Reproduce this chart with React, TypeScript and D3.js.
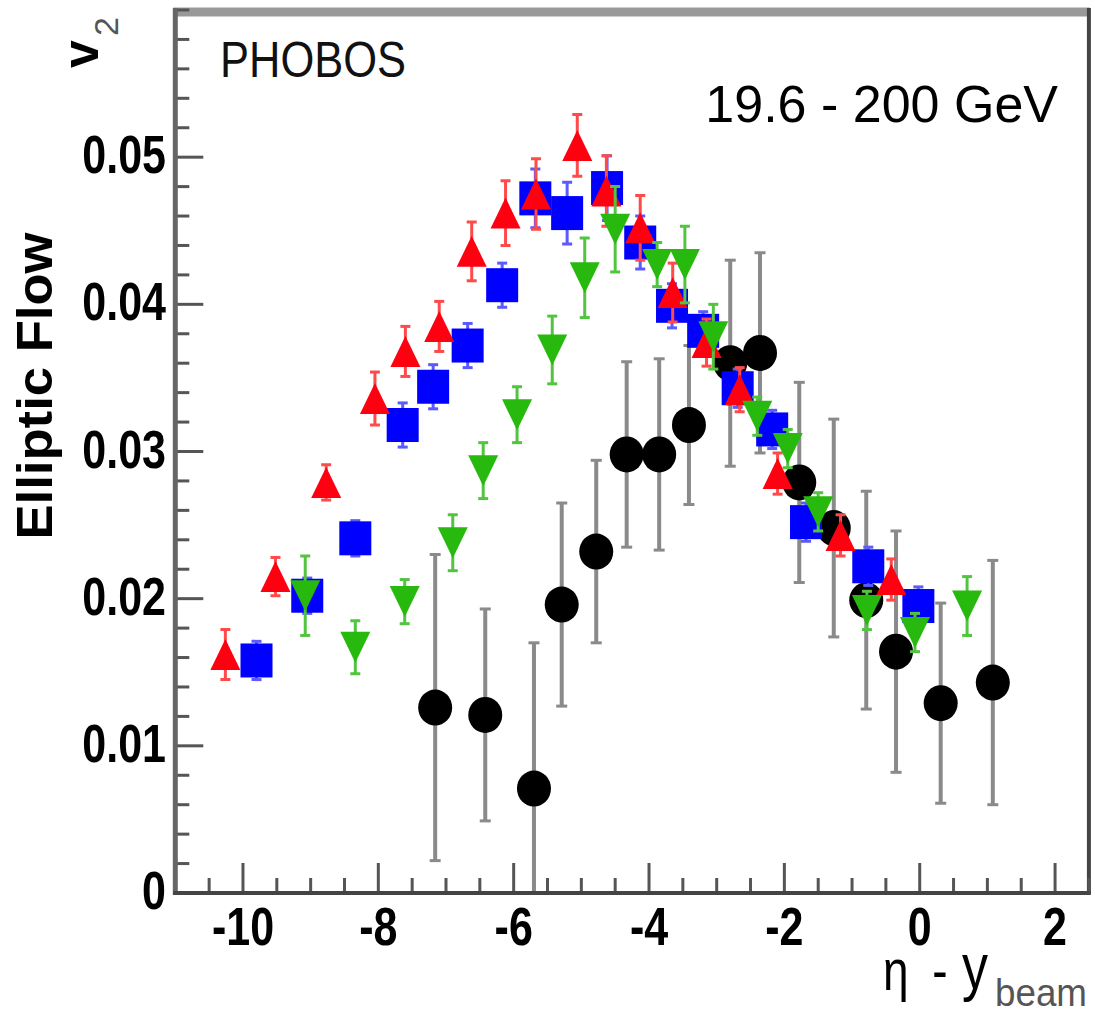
import React from "react";
import * as d3 from "d3";

// ---- data ----
const blackX = [-7.16, -6.42, -5.70, -5.29, -4.78, -4.33, -3.85, -3.41, -2.80, -2.36, -1.78, -1.27, -0.79, -0.35, 0.31, 1.08];
const blackY = [0.0126, 0.0121, 0.0071, 0.0196, 0.0232, 0.0298, 0.0298, 0.0318, 0.0360, 0.0367, 0.0279, 0.0248, 0.0199, 0.0164, 0.0129, 0.0143];
const blackErr = [0.0104, 0.0072, 0.0099, 0.0069, 0.0062, 0.0063, 0.0065, 0.0054, 0.0070, 0.0068, 0.0068, 0.0074, 0.0074, 0.0082, 0.0068, 0.0083];

const blueX = [-9.80, -9.05, -8.34, -7.64, -7.19, -6.68, -6.17, -5.68, -5.21, -4.62, -4.13, -3.66, -3.20, -2.69, -2.18, -1.68, -0.76, -0.02];
const blueY = [0.0158, 0.0202, 0.0241, 0.0318, 0.0344, 0.0372, 0.0413, 0.0472, 0.0462, 0.0479, 0.0442, 0.0399, 0.0382, 0.0343, 0.0315, 0.0252, 0.0222, 0.0195];
const blueErr = [0.0013, 0.0012, 0.0012, 0.0015, 0.0015, 0.0015, 0.0015, 0.0020, 0.0021, 0.0022, 0.0018, 0.0015, 0.0013, 0.0013, 0.0013, 0.0013, 0.0013, 0.0013];

const redX = [-10.26, -9.52, -8.77, -8.05, -7.60, -7.10, -6.62, -6.12, -5.67, -5.06, -4.63, -4.13, -3.65, -3.15, -2.66, -2.10, -1.17, -0.42];
const redY = [0.0162, 0.0215, 0.0279, 0.0336, 0.0368, 0.0385, 0.0436, 0.0462, 0.0475, 0.0508, 0.0477, 0.0452, 0.0408, 0.0374, 0.0342, 0.0285, 0.0243, 0.0213];
const redErr = [0.0017, 0.0013, 0.0012, 0.0018, 0.0017, 0.0017, 0.0020, 0.0022, 0.0024, 0.0021, 0.0024, 0.0022, 0.0020, 0.0016, 0.0015, 0.0014, 0.0014, 0.0014];

const greenX = [-9.08, -8.34, -7.61, -6.90, -6.45, -5.95, -5.43, -4.95, -4.50, -3.88, -3.47, -3.05, -2.40, -1.95, -1.50, -0.78, -0.07, 0.70];
const greenY = [0.0202, 0.0167, 0.0198, 0.0238, 0.0287, 0.0325, 0.0369, 0.0418, 0.0451, 0.0427, 0.0427, 0.0378, 0.0324, 0.0302, 0.0259, 0.0192, 0.0177, 0.0195];
const greenErr = [0.0027, 0.0018, 0.0015, 0.0019, 0.0019, 0.0019, 0.0023, 0.0027, 0.0029, 0.0015, 0.0026, 0.0022, 0.0013, 0.0013, 0.0013, 0.0013, 0.0013, 0.0020];

const xTickValues = [-10, -8, -6, -4, -2, 0, 2];
const yTickValues = [0, 0.01, 0.02, 0.03, 0.04, 0.05];
const xDomain = [-11, 2.5];
const yDomain = [0, 0.06];

const W = 1095;
const H = 1017;
const L = 175.3;
const R = 1088.9;
const T = 10;
const B = 893;

const x = d3.scaleLinear().domain(xDomain).range([L, R]);
const y = d3.scaleLinear().domain(yDomain).range([B, T]);

const FONT = "'Liberation Sans', Arial, Helvetica, sans-serif";
const SY = 1.25;

function ErrBars({ xs, ys, es, color, width, cap }) {
  return (
    <g>
      {xs.map((xv, i) => {
        const px = x(xv);
        const y1 = y(ys[i] + es[i]);
        const y2 = y(ys[i] - es[i]);
        return (
          <g key={i}>
            <line x1={px} x2={px} y1={y1} y2={y2} stroke={color} strokeWidth={width} />
            <line x1={px - cap / 2} x2={px + cap / 2} y1={y1} y2={y1} stroke={color} strokeWidth={3} />
            <line x1={px - cap / 2} x2={px + cap / 2} y1={y2} y2={y2} stroke={color} strokeWidth={3} />
          </g>
        );
      })}
    </g>
  );
}

export default function App() {
  const xMinor = d3.range(-11, 2.5001, 0.5);
  const yMinor = d3.range(0, 0.06001, 0.002);
  const triUp = (cx, cy) => {
    const w = 15, h = 15.5;
    return `M${cx - w},${cy + h}L${cx + w},${cy + h}L${cx},${cy - h}Z`;
  };
  const triDown = (cx, cy) => {
    const w = 15, h = 15.5;
    return `M${cx - w},${cy - h}L${cx + w},${cy - h}L${cx},${cy + h}Z`;
  };

  return (
    <svg width={W} height={H} style={{ position: "absolute", left: 0, top: 0, background: "#fff" }}>
      <defs>
        <clipPath id="plotclip">
          <rect x={L} y={T} width={R - L} height={B - T} />
        </clipPath>
      </defs>
      <rect x={0} y={0} width={W} height={H} fill="#fff" />

      {/* frame */}
      <line x1={L - 2} x2={R + 1} y1={12} y2={12} stroke="#999" strokeWidth={9} />
      <line x1={R} x2={R} y1={8} y2={B} stroke="#444" strokeWidth={4} />

      {/* ticks */}
      <g stroke="#555" strokeWidth={3}>
        {xMinor.map((v, i) => {
          const major = xTickValues.some((t) => Math.abs(t - v) < 1e-6);
          return <line key={"xm" + i} x1={x(v)} x2={x(v)} y1={B} y2={B - (major ? 30 : 15)} />;
        })}
        {yMinor.map((v, i) => {
          const major = yTickValues.some((t) => Math.abs(t - v) < 1e-6);
          return <line key={"ym" + i} x1={L} x2={L + (major ? 28 : 14)} y1={y(v)} y2={y(v)} />;
        })}
      </g>

      {/* data */}
      <g clipPath="url(#plotclip)">
        <ErrBars xs={blackX} ys={blackY} es={blackErr} color="#8a8a8a" width={4} cap={11} />
        {blackX.map((v, i) => (
          <ellipse key={"b" + i} cx={x(v)} cy={y(blackY[i])} rx={17} ry={18} fill="#000" />
        ))}
        <ErrBars xs={blueX} ys={blueY} es={blueErr} color="#5a5aff" width={3} cap={10} />
        {blueX.map((v, i) => (
          <rect key={"s" + i} x={x(v) - 16} y={y(blueY[i]) - 17} width={32} height={34} fill="#0000ff" />
        ))}
        <ErrBars xs={redX} ys={redY} es={redErr} color="#ff4a4a" width={3} cap={10} />
        {redX.map((v, i) => (
          <path key={"r" + i} d={triUp(x(v), y(redY[i]))} fill="#ff0010" />
        ))}
        <ErrBars xs={greenX} ys={greenY} es={greenErr} color="#52c440" width={3} cap={10} />
        {greenX.map((v, i) => (
          <path key={"g" + i} d={triDown(x(v), y(greenY[i]))} fill="#27b90e" />
        ))}
      </g>

      {/* axes lines */}
      <line x1={L} x2={L} y1={8} y2={B + 2} stroke="#666" strokeWidth={5} />
      <line x1={L - 2} x2={R + 2} y1={B} y2={B} stroke="#444" strokeWidth={4} />

      {/* tick labels */}
      <g fontFamily={FONT} fontWeight="bold" fontSize={43} fill="#000">
        {xTickValues.map((v) => (
          <g key={"xl" + v} transform={`translate(${x(v)},945) scale(1,${SY})`}>
            <text textAnchor="middle" x={0} y={0}>{v < 0 ? "-" + Math.abs(v) : String(v)}</text>
          </g>
        ))}
        {yTickValues.map((v) => (
          <g key={"yl" + v} transform={`translate(166,${y(v)}) scale(1,${SY})`}>
            <text textAnchor="end" x={0} y={12.8}>{v === 0 ? "0" : v.toFixed(2)}</text>
          </g>
        ))}
      </g>

      {/* y title */}
      <text
        transform="translate(52,386) rotate(-90)"
        textAnchor="middle"
        fontFamily={FONT}
        fontWeight="bold"
        fontSize={50}
        textLength={307}
        lengthAdjust="spacingAndGlyphs"
      >
        Elliptic Flow
      </text>

      {/* v2 label */}
      <text transform="translate(98,68) rotate(-90)" fontFamily={FONT} fontWeight="bold" fontSize={50}>v</text>
      <text transform="translate(118,36) rotate(-90)" fontFamily={FONT} fontSize={34} fill="#555">2</text>

      {/* x title */}
      <g fontFamily={FONT} fill="#000">
        <g transform={`translate(883,990) scale(1,${SY})`}>
          <text x={0} y={0} fontSize={46}>η</text>
        </g>
        <g transform={`translate(940,990) scale(1,${SY})`}>
          <text x={0} y={0} fontSize={46} textAnchor="middle">-</text>
        </g>
        <g transform={`translate(962,989) scale(1,${SY})`}>
          <text x={0} y={0} fontSize={52}>y</text>
        </g>
        <text x={995} y={1006} fontSize={38} fill="#555" textLength={92} lengthAdjust="spacingAndGlyphs">beam</text>
      </g>

      {/* annotations */}
      <g transform={`translate(220,77) scale(1,1.12)`}>
        <text x={0} y={0} fontFamily={FONT} fontSize={44} fill="#111" textLength={186} lengthAdjust="spacingAndGlyphs">PHOBOS</text>
      </g>
      <text x={1058} y={122} textAnchor="end" fontFamily={FONT} fontSize={52} fill="#000">19.6 - 200 GeV</text>
    </svg>
  );
}
